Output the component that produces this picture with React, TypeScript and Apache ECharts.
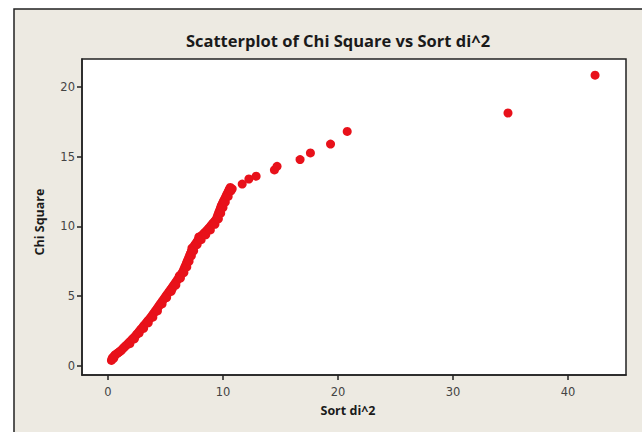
import React, { useEffect, useRef } from "react";
import * as echarts from "echarts";

const titleText = "Scatterplot of Chi Square vs Sort di^2";
const xName = "Sort di^2";
const yName = "Chi Square";
const xTicks = [0, 10, 20, 30, 40];
const yTicks = [0, 5, 10, 15, 20];

// Sorted squared distances (x)
const sortDi2 = [
  0.3, 0.35, 0.42, 0.5, 0.55, 0.61, 0.7, 0.8, 0.9, 1.0, 1.1, 1.19, 1.3, 1.4, 1.5, 1.62,
  1.75, 1.88, 2.0, 2.12, 2.23, 2.34, 2.45, 2.57, 2.69, 2.81, 2.93, 3.06, 3.18, 3.3, 3.42,
  3.54, 3.66, 3.78, 3.9, 4.02, 4.14, 4.26, 4.38, 4.5, 4.62, 4.74, 4.86, 4.98, 5.1, 5.23,
  5.35, 5.47, 5.59, 5.6, 5.71, 5.83, 5.95, 6.05, 6.15, 6.2, 6.25, 6.34, 6.44, 6.53, 6.6,
  6.67, 6.74, 6.82, 6.85, 6.89, 6.96, 7.03, 7.1, 7.17, 7.25, 7.3, 7.32, 7.39, 7.49, 7.58,
  7.68, 7.78, 7.87, 7.9, 7.97, 8.09, 8.21, 8.33, 8.4, 8.45, 8.57, 8.69, 8.81, 8.93, 9.05,
  9.17, 9.3, 9.42, 9.49, 9.56, 9.63, 9.71, 9.78, 9.85, 9.92, 9.99, 10.06, 10.14, 10.21,
  10.28, 10.35, 10.42, 10.49, 10.56, 10.63,
  1.9, 2.3, 2.7, 3.1, 3.5, 3.9, 4.3, 4.7, 5.1, 5.5, 5.9, 6.3, 6.6, 6.85, 7.05, 7.25, 7.45,
  7.75, 8.1, 8.5, 8.9, 9.3, 9.6, 9.8, 10.0, 10.2, 10.45, 10.7, 10.8,
  11.67, 12.25, 12.88, 14.47, 14.7, 16.7, 17.6, 19.35, 20.8, 34.78, 42.35,
];

// Chi-square quantiles (y)
const chiSquare = [
  0.4, 0.52, 0.62, 0.55, 0.72, 0.79, 0.84, 0.9, 0.96, 1.02, 1.08, 1.15, 1.26, 1.33, 1.42, 1.51,
  1.62, 1.72, 1.82, 1.93, 2.02, 2.11, 2.22, 2.34, 2.46, 2.58, 2.7, 2.83, 2.95, 3.07, 3.19,
  3.31, 3.43, 3.55, 3.69, 3.83, 3.97, 4.11, 4.25, 4.39, 4.53, 4.67, 4.81, 4.95, 5.09, 5.23,
  5.37, 5.51, 5.65, 5.55, 5.79, 5.93, 6.07, 6.19, 6.31, 6.45, 6.43, 6.55, 6.67, 6.79, 6.93,
  7.07, 7.21, 7.36, 7.3, 7.5, 7.64, 7.78, 7.92, 8.06, 8.2, 8.45, 8.34, 8.48, 8.6, 8.72,
  8.84, 8.96, 9.08, 9.25, 9.2, 9.3, 9.4, 9.5, 9.45, 9.6, 9.7, 9.8, 9.92, 10.04, 10.16,
  10.28, 10.4, 10.52, 10.68, 10.84, 11.0, 11.16, 11.32, 11.48, 11.6, 11.72, 11.84, 11.96, 12.08,
  12.2, 12.32, 12.44, 12.56, 12.68, 12.8,
  1.6, 1.95, 2.35, 2.7, 3.1, 3.5, 3.95, 4.45, 4.9, 5.35, 5.8, 6.3, 6.7, 7.1, 7.5, 7.9, 8.25,
  8.7, 9.05, 9.4, 9.75, 10.15, 10.55, 10.95, 11.35, 11.75, 12.15, 12.55, 12.7,
  13.04, 13.4, 13.6, 14.05, 14.31, 14.79, 15.27, 15.9, 16.81, 18.13, 20.84,
];

export default function App() {
  const ref = useRef<HTMLDivElement>(null);
  useEffect(() => {
    if (!ref.current) return;
    const chart = echarts.init(ref.current, undefined, { renderer: "svg" });
    const data = sortDi2.map((x, i) => [x, chiSquare[i]]);
    const tickFont = { fontFamily: "DejaVu Sans", fontSize: 11.5, color: "#444" };
    const nameStyle = {
      fontFamily: "Open Sans",
      fontWeight: "bold",
      fontSize: 12.5,
      fill: "#1a1a1a",
      align: "center",
      verticalAlign: "middle",
    };
    chart.setOption({
      animation: false,
      backgroundColor: "#ffffff",
      graphic: [
        {
          type: "rect",
          z: -10,
          silent: true,
          shape: { x: 14, y: 9, width: 700, height: 500 },
          style: { fill: "#EDEAE2", stroke: "#222", lineWidth: 1.5 },
        },
        {
          type: "text",
          x: 338,
          y: 40,
          style: {
            text: titleText,
            fontFamily: "Open Sans",
            fontWeight: "bold",
            fontSize: 16.5,
            fill: "#1a1a1a",
            align: "center",
            verticalAlign: "middle",
          },
        },
        {
          type: "text",
          x: 348,
          y: 410,
          style: { ...nameStyle, text: xName },
        },
        {
          type: "text",
          x: 39,
          y: 222,
          rotation: Math.PI / 2,
          style: { ...nameStyle, text: yName },
        },
      ],
      grid: {
        left: 82,
        top: 59,
        right: 16,
        bottom: 57,
        show: true,
        backgroundColor: "#ffffff",
        borderColor: "#222",
        borderWidth: 1.5,
      },
      xAxis: {
        type: "value",
        min: -2.26,
        max: 45.04,
        splitLine: { show: false },
        axisLine: { show: true, onZero: false, lineStyle: { color: "#222", width: 1.5 } },
        axisTick: {
          show: true,
          length: 5,
          lineStyle: { color: "#222", width: 1.5 },
          customValues: xTicks,
        },
        axisLabel: { ...tickFont, margin: 11, customValues: xTicks },
      },
      yAxis: {
        type: "value",
        min: -0.645,
        max: 22.0,
        splitLine: { show: false },
        axisLine: { show: true, onZero: false, lineStyle: { color: "#222", width: 1.5 } },
        axisTick: {
          show: true,
          length: 5,
          lineStyle: { color: "#222", width: 1.5 },
          customValues: yTicks,
        },
        axisLabel: { ...tickFont, margin: 7, customValues: yTicks },
      },
      series: [
        {
          type: "scatter",
          data,
          symbol: "circle",
          symbolSize: 9,
          itemStyle: { color: "#e8111a", opacity: 1 },
        },
      ],
    });
    return () => chart.dispose();
  }, []);
  return (
    <div
      ref={ref}
      style={{ position: "fixed", left: 0, top: 0, width: 642, height: 432 }}
    />
  );
}
